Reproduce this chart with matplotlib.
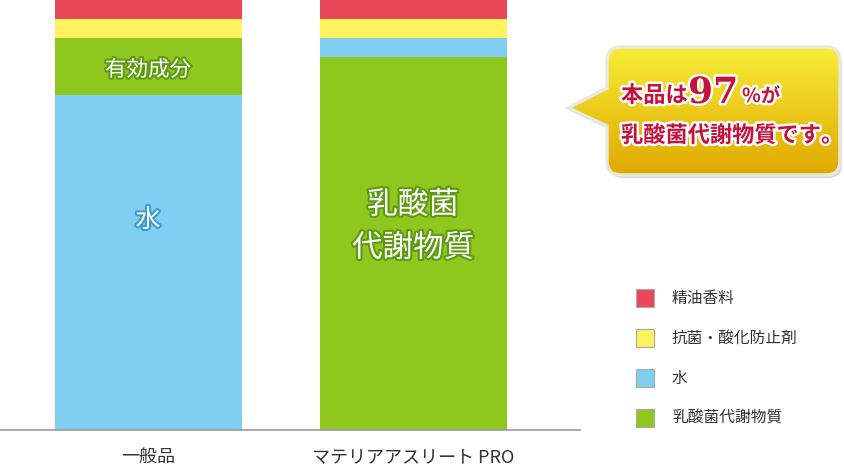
import numpy as np
import matplotlib
matplotlib.use('Agg')
import matplotlib.pyplot as plt
from matplotlib.path import Path
from matplotlib.patches import PathPatch, Rectangle
import matplotlib.patheffects as pe

plt.rcParams['font.family'] = ['Noto Sans CJK JP', 'DejaVu Sans']

# data (percent of product)
products = ['一般品', 'マテリアアスリート PRO']
# stacked bottom -> top for each product
stack_order = [
    ['水', '有効成分', '抗菌・酸化防止剤', '精油香料'],
    ['乳酸菌代謝物質', '水', '抗菌・酸化防止剤', '精油香料'],
]
stack_values = [
    [78.0, 13.2, 4.4, 4.4],
    [86.8, 4.4, 4.4, 4.4],
]
colors = {
    '精油香料': '#E84858',
    '抗菌・酸化防止剤': '#FFF35E',
    '水': '#80CFF3',
    '乳酸菌代謝物質': '#8FC71F',
    '有効成分': '#8FC71F',
}
legend_items = ['精油香料', '抗菌・酸化防止剤', '水', '乳酸菌代謝物質']

W, H = 845, 469
fig = plt.figure(figsize=(W / 100, H / 100), dpi=100)

# bar axes
ax = fig.add_axes([0, 39 / H, 580 / W, 430 / H])
x = np.arange(len(products))
for i in range(len(products)):
    bottom = 0
    for name, val in zip(stack_order[i], stack_values[i]):
        ax.bar(x[i], val, bottom=bottom, width=0.706, color=colors[name],
               edgecolor='none')
        bottom += val
ax.set_xlim(-0.56, 1.628)
ax.set_ylim(0, 100)
for s in ['top', 'right', 'left']:
    ax.spines[s].set_visible(False)
ax.spines['bottom'].set_color('#999999')
ax.spines['bottom'].set_linewidth(1.2)
ax.set_yticks([])
ax.set_xticks(x)
ax.set_xticklabels(products, fontsize=13, color='#333333')
ax.tick_params(axis='x', length=0, pad=13)

# overlay in pixel coordinates
ov = fig.add_axes([0, 0, 1, 1])
ov.set_xlim(0, W)
ov.set_ylim(H, 0)
ov.axis('off')

green_fx = [pe.withStroke(linewidth=3, foreground='#5E9A12')]
blue_fx = [pe.withStroke(linewidth=3, foreground='#3F9AD0')]
ov.text(148, 70, '有効成分', fontsize=15.5, color='white', ha='center',
        va='center', path_effects=green_fx)
ov.text(148, 220, '水', fontsize=18, color='white', ha='center',
        va='center', path_effects=blue_fx)
ov.text(413, 205, '乳酸菌', fontsize=22, color='white', ha='center',
        va='center', path_effects=green_fx)
ov.text(413, 248, '代謝物質', fontsize=22, color='white', ha='center',
        va='center', path_effects=green_fx)

# speech bubble
x0, x1, y0, y1, r = 607, 840, 47, 175, 14
verts = [(x0 + r, y0), (x1 - r, y0), (x1, y0), (x1, y0 + r), (x1, y1 - r),
         (x1, y1), (x1 - r, y1), (x0 + r, y1), (x0, y1), (x0, y1 - r),
         (x0, 126), (568, 108), (x0, 88), (x0, y0 + r), (x0, y0),
         (x0 + r, y0), (x0 + r, y0)]
codes = [Path.MOVETO, Path.LINETO, Path.CURVE3, Path.CURVE3, Path.LINETO,
         Path.CURVE3, Path.CURVE3, Path.LINETO, Path.CURVE3, Path.CURVE3,
         Path.LINETO, Path.LINETO, Path.LINETO, Path.LINETO, Path.CURVE3,
         Path.CURVE3, Path.CLOSEPOLY]
bpath = Path(verts, codes)
shadow = PathPatch(bpath.transformed(matplotlib.transforms.Affine2D().translate(2, 3)),
                   facecolor='#888888', edgecolor='none', alpha=0.35,
                   transform=ov.transData)
ov.add_patch(shadow)
bubble = PathPatch(bpath, facecolor='none', edgecolor='#E8E8E0', lw=2.5,
                   transform=ov.transData, zorder=3)
ov.add_patch(bubble)
top = np.array([0.97, 0.93, 0.22])
bot = np.array([0.88, 0.66, 0.0])
t = np.linspace(0, 1, 100)[:, None]
grad = (top * (1 - t) + bot * t)[:, None, :] * np.ones((1, 2, 1))
im = ov.imshow(grad, extent=(565, 842, y1, y0), aspect='auto',
               interpolation='bilinear', zorder=2)
im.set_clip_path(bubble)
ov.set_xlim(0, W)
ov.set_ylim(H, 0)

red_fx = [pe.withStroke(linewidth=3.5, foreground='white')]
red = '#C4123F'
ov.text(621, 102, '本品は', fontsize=16, fontweight='bold', color=red,
        va='baseline', path_effects=red_fx, zorder=4)
ov.text(688, 103, '97', fontsize=26, fontweight='bold', color=red,
        va='baseline', path_effects=red_fx, family='DejaVu Serif', zorder=4)
ov.text(742, 102, '%が', fontsize=14, fontweight='bold', color=red,
        va='baseline', path_effects=red_fx, zorder=4)
ov.text(621, 142, '乳酸菌代謝物質です。', fontsize=16, fontweight='bold',
        color=red, va='baseline', path_effects=red_fx, zorder=4)

# legend
for k, name in enumerate(legend_items):
    yc = 298 + 40 * k
    ov.add_patch(Rectangle((636, yc - 9), 18, 18, facecolor=colors[name],
                           edgecolor='#AAAAAA', lw=0.8))
    ov.text(672, yc, name, fontsize=11.3, color='#333333', va='center')

fig.savefig('out.png', dpi=100)
